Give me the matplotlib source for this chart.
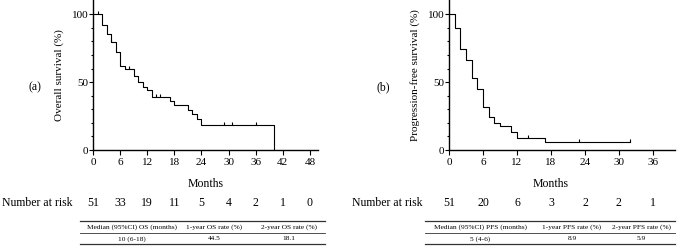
import numpy as np
import matplotlib.pyplot as plt
from matplotlib.path import Path
from matplotlib.transforms import blended_transform_factory

plt.rcParams["font.family"] = ["Liberation Serif", "DejaVu Serif"]
plt.rcParams["font.size"] = 8

# overall survival: step times (months) and survival (%) after each step
os_times = [0, 2, 3, 4, 5, 6, 7, 9, 10, 11, 12, 13, 17, 18, 21, 22, 23, 24, 40]
os_surv = [100, 92.1, 85.5, 79.4, 72.5, 62.2, 59.7, 54.8, 49.9, 46.5, 44.5, 38.8, 36.4, 33.0, 29.5, 26.8, 22.9, 18.1, 0]
os_end = 40
os_censor_t = [1.1, 4.0, 8.0, 13.9, 14.9, 29.0, 30.8, 36.0]

# progression-free survival
pfs_times = [0, 1, 2, 3, 4, 5, 6, 7, 8, 9, 11, 12, 17]
pfs_surv = [100, 90.2, 74.2, 66.1, 52.8, 44.7, 31.4, 24.6, 20.1, 17.7, 13.0, 8.9, 5.9]
pfs_end = 32
pfs_censor_t = [14.0, 23.0, 32.0]

os_ticks = [0, 6, 12, 18, 24, 30, 36, 42, 48]
os_risk = [51, 33, 19, 11, 5, 4, 2, 1, 0]
pfs_ticks = [0, 6, 12, 18, 24, 30, 36]
pfs_risk = [51, 20, 6, 3, 2, 2, 1]

os_header = ["Median (95%CI) OS (months)", "1-year OS rate (%)", "2-year OS rate (%)"]
os_row = ["10 (6-18)", "44.5", "18.1"]
pfs_header = ["Median (95%CI) PFS (months)", "1-year PFS rate (%)", "2-year PFS rate (%)"]
pfs_row = ["5 (4-6)", "8.9", "5.9"]

W, H = 677, 248
fig = plt.figure(figsize=(W / 100, H / 100), dpi=100)

censor_marker = Path([[0, 0], [0, 1]])


def surv_at(times, surv, t):
    idx = np.searchsorted(times, t, side="right") - 1
    return surv[idx]


def km_panel(rect, times, surv, end, censor_t, xmax, ticks, risk, ylabel,
             letter, letter_x, risk_label_x, months_x, header, row, col_x, tab_x):
    ax = fig.add_axes(rect)
    xs = list(times) + [end]
    ys = list(surv) + [surv[-1]]
    ax.step(xs, ys, where="post", color="black", lw=0.8)
    cy = [surv_at(times, surv, t) for t in censor_t]
    ax.plot(censor_t, cy, ls="none", marker=censor_marker, ms=4, mew=0.8, color="black")

    ax.set_xlim(0, xmax)
    ax.set_ylim(0, 110.5)
    ax.set_xticks(ticks)
    ax.set_yticks([0, 50, 100])
    ax.set_yticks(np.arange(10, 110, 10), minor=True)
    for s in ["top", "right"]:
        ax.spines[s].set_visible(False)
    for s in ["left", "bottom"]:
        ax.spines[s].set_linewidth(1.0)
    ax.tick_params(axis="y", which="major", length=3, width=0.8, pad=0.5)
    ax.tick_params(axis="y", which="minor", length=1.8, width=0.8)
    ax.tick_params(axis="x", length=3.5, width=0.8, pad=2)
    ax.set_ylabel(ylabel)
    ax.yaxis.set_label_coords(-29.5 / (rect[2] * W), 0.5)

    fig.text(letter_x / W, 1 - 87 / H, letter, ha="center", va="center", fontsize=8.5)

    tr = blended_transform_factory(ax.transData, fig.transFigure)
    ax.text(months_x, 1 - 184 / H, "Months", transform=tr, ha="center", va="center",
            fontsize=8.5, clip_on=False)
    fig.text(risk_label_x / W, 1 - 203 / H, "Number at risk", ha="left", va="center", fontsize=8.5)
    for t, n in zip(ticks, risk):
        ax.text(t, 1 - 203 / H, str(n), transform=tr, ha="center", va="center",
                fontsize=8.5, clip_on=False)

    # summary table
    x0, x1 = tab_x
    for yy, lw in [(221, 0.9), (232.7, 0.6), (244, 0.9)]:
        fig.add_artist(plt.Line2D([x0 / W, x1 / W], [1 - yy / H, 1 - yy / H],
                                  color="#333333", lw=lw))
    for cx, h, r in zip(col_x, header, row):
        fig.text(cx / W, 1 - 226.8 / H, h, ha="center", va="center", fontsize=5.3)
        fig.text(cx / W, 1 - 238.8 / H, r, ha="center", va="center", fontsize=5.3)
    return ax


km_panel([93 / W, 1 - 150 / H, 225 / W, 150 / H], os_times, os_surv, os_end, os_censor_t,
         49.8, os_ticks, os_risk, "Overall survival (%)", "(a)", 35, 2, 25,
         os_header, os_row, [132, 214, 289], (80, 325))

km_panel([449 / W, 1 - 150 / H, 226 / W, 150 / H], pfs_times, pfs_surv, pfs_end, pfs_censor_t,
         39.9, pfs_ticks, pfs_risk, "Progression-free survival (%)", "(b)", 383, 352, 18,
         pfs_header, pfs_row, [480, 572, 641], (425, 675))

fig.savefig("out.png", dpi=100)
